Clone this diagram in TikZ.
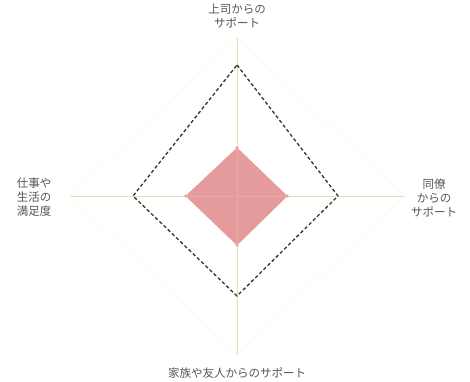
\documentclass[tikz,border=0pt]{standalone}
\usepackage{fontspec}
\newfontfamily\jp{Noto Sans CJK JP}
\definecolor{axiscol}{HTML}{DCE4B8}
\definecolor{gridcol}{HTML}{F8F9EF}
\definecolor{pinkfill}{HTML}{E59A9C}
\definecolor{pinkdot}{HTML}{EBA2A3}
\definecolor{txtcol}{HTML}{555555}
\tikzset{
  lbl/.style={font=\jp\fontsize{11.5}{14}\selectfont, text=txtcol, align=center, inner sep=0pt},
  axisline/.style={draw=axiscol, line width=0.9pt},
  gridline/.style={draw=gridcol, line width=0.8pt},
  target/.style={draw=black!80, dash pattern=on 3.4pt off 2.4pt, line width=1.3pt},
  score/.style={fill=pinkfill, draw=pinkfill, line width=0.6pt, rounded corners=3pt},
  sdot/.style={circle, fill=pinkdot, inner sep=0pt, minimum size=3.6pt}
}
\begin{document}
\begin{tikzpicture}[x=1pt,y=-1pt]
\useasboundingbox (0,0) rectangle (470,381);
% axis ends
\coordinate (c) at (237,196);
\coordinate (at) at (237,38);
\coordinate (ab) at (237,355);
\coordinate (al) at (70,196);
\coordinate (ar) at (404,196);
% faint grid
\draw[gridline] (at) -- (ar) -- (ab) -- (al) -- cycle;
% axes
\draw[axisline] (at) -- (ab);
\draw[axisline] (al) -- (ar);
% score polygon
\coordinate (pt) at (237,148);
\coordinate (pr) at (287,196);
\coordinate (pb) at (237,245);
\coordinate (pl) at (186,196);
\draw[score] (pt) -- (pr) -- (pb) -- (pl) -- cycle;
\draw[axisline, draw opacity=0.25] (pt) -- (pb) (pl) -- (pr);
\node[sdot] (dt) at (pt) {};
\node[sdot] (dr) at (pr) {};
\node[sdot] (db) at (pb) {};
\node[sdot] (dl) at (pl) {};
% target dashed
\coordinate (tt) at (237,65);
\coordinate (tr) at (338,196);
\coordinate (tb) at (237,296);
\coordinate (tl) at (133,196);
\draw[target] (tt) -- (tr) -- (tb) -- (tl) -- cycle;
% labels
\node[lbl] (ltop) at (237,16) {上司からの\\サポート};
\node[lbl] (lleft) at (34,197) {仕事や\\生活の\\満足度};
\node[lbl] (lright) at (434,198) {同僚\\からの\\サポート};
\node[lbl] (lbottom) at (237,373) {家族や友人からのサポート};
\end{tikzpicture}
\end{document}
